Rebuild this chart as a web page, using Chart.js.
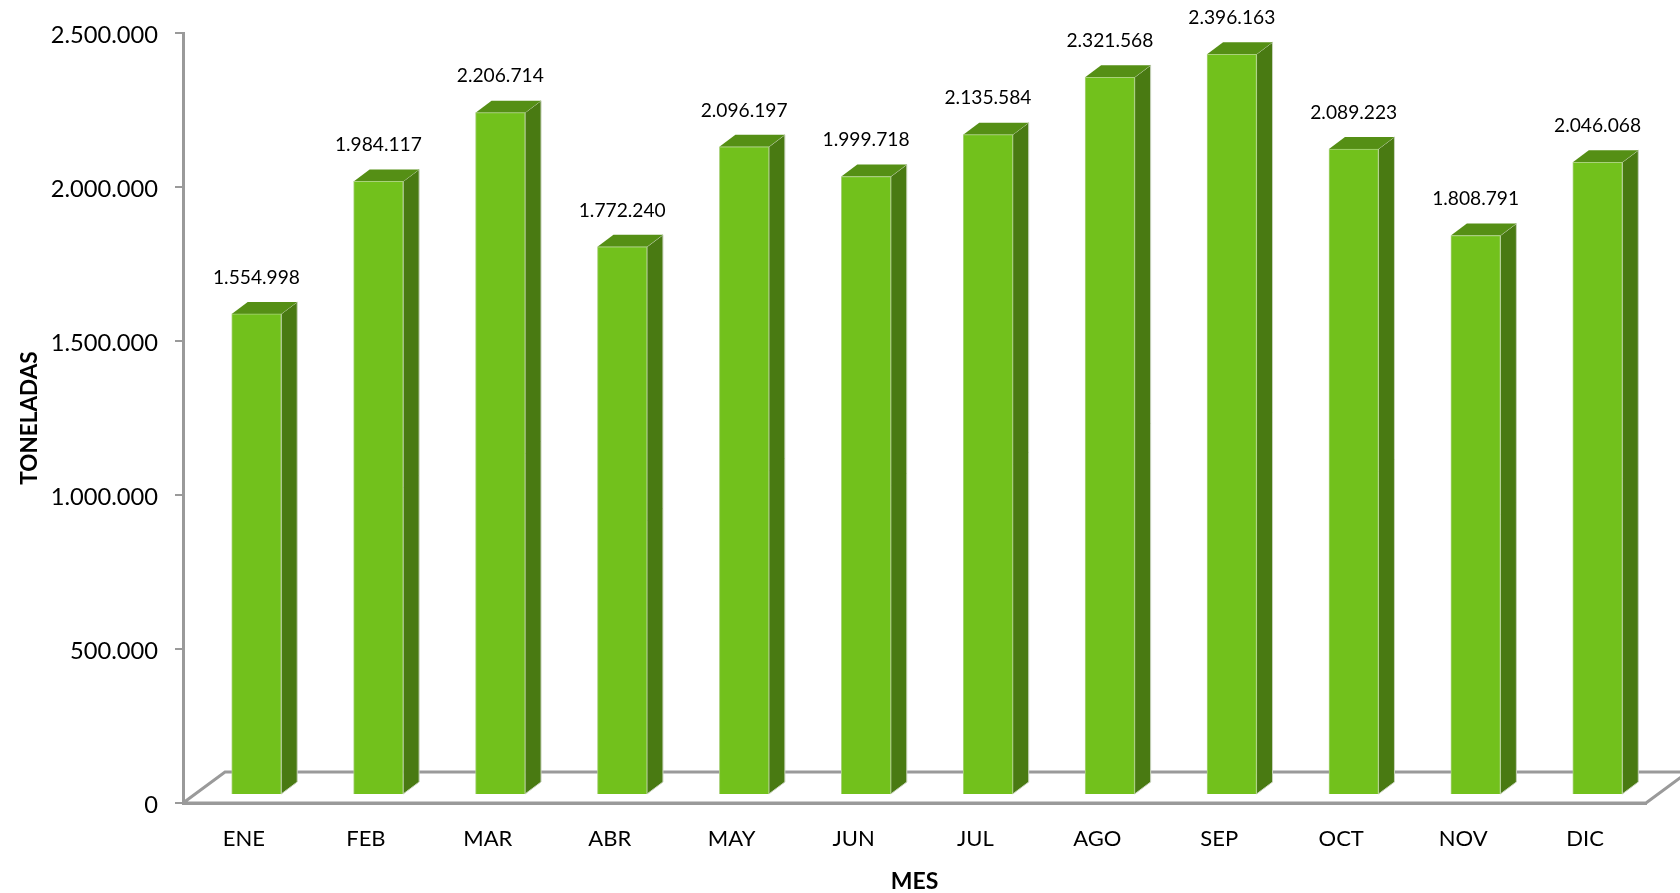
<!DOCTYPE html>
<html>
<head>
<meta charset="utf-8">
<title>Toneladas por mes</title>
<script src="https://cdn.jsdelivr.net/npm/chart.js@4/dist/chart.umd.min.js"></script>
<style>
  html, body { margin: 0; padding: 0; background: #fff; }
  canvas { display: block; }
</style>
</head>
<body>
<canvas id="chart" width="1680" height="893"></canvas>
<script>
const meses = ['ENE', 'FEB', 'MAR', 'ABR', 'MAY', 'JUN', 'JUL', 'AGO', 'SEP', 'OCT', 'NOV', 'DIC'];
const toneladas = [1554998, 1984117, 2206714, 1772240, 2096197, 1999718, 2135584, 2321568, 2396163, 2089223, 1808791, 2046068];

const FONT = 'Lato, Carlito, sans-serif';
const GRIS = '#9a9a9a';
const FRENTE = '#72c11c', LADO = '#497a12', TAPA = '#558f15';
const DX = 16, DY = 12;          // profundidad de la barra
const OFF_X = 12.5, OFF_Y = -9;  // las barras van un poco dentro del piso

const fmt = v => v.toLocaleString('de-DE');

// piso en falsa perspectiva
const piso = {
  id: 'piso',
  beforeDatasetsDraw(chart) {
    const { ctx, chartArea: a } = chart;
    ctx.save();
    ctx.strokeStyle = GRIS;
    ctx.lineWidth = 3;
    ctx.beginPath();
    ctx.moveTo(a.left, a.bottom);
    ctx.lineTo(a.left + 42, a.bottom - 31);
    ctx.lineTo(chart.width + 10, a.bottom - 31);
    ctx.moveTo(a.left, a.bottom);
    ctx.lineTo(a.right, a.bottom);
    ctx.lineTo(a.right + 42, a.bottom - 31);
    ctx.stroke();
    ctx.restore();
  }
};

// caras lateral y superior, y desplaza todo el dibujo de las barras
const barras3d = {
  id: 'barras3d',
  beforeDatasetsDraw(chart) {
    const { ctx } = chart;
    ctx.save();
    ctx.translate(OFF_X, OFF_Y);
    chart.getDatasetMeta(0).data.forEach(bar => {
      const { x, y, base, width } = bar.getProps(['x', 'y', 'base', 'width'], true);
      const l = x - width / 2, r = x + width / 2;
      ctx.fillStyle = LADO;
      ctx.strokeStyle = '#c9d3bd';
      ctx.lineWidth = 1;
      ctx.beginPath();
      ctx.moveTo(r, y);
      ctx.lineTo(r + DX, y - DY);
      ctx.lineTo(r + DX, base - DY);
      ctx.lineTo(r, base);
      ctx.closePath();
      ctx.fill();
      ctx.stroke();
      ctx.fillStyle = TAPA;
      ctx.beginPath();
      ctx.moveTo(l, y);
      ctx.lineTo(l + DX, y - DY);
      ctx.lineTo(r + DX, y - DY);
      ctx.lineTo(r, y);
      ctx.closePath();
      ctx.fill();
    });
  },
  afterDatasetsDraw(chart) {
    const { ctx } = chart;
    ctx.restore();
    ctx.save();
    ctx.fillStyle = '#000';
    ctx.font = '19.2px ' + FONT;
    ctx.textAlign = 'center';
    ctx.textBaseline = 'middle';
    chart.getDatasetMeta(0).data.forEach((bar, i) => {
      const { x, y } = bar.getProps(['x', 'y'], true);
      ctx.fillText(fmt(toneladas[i]), x + OFF_X, y + OFF_Y - DY - 24.5);
    });
    ctx.restore();
  }
};

new Chart(document.getElementById('chart'), {
  type: 'bar',
  data: {
    labels: meses,
    datasets: [{
      data: toneladas,
      yAxisID: 'yBarras',
      backgroundColor: FRENTE,
      borderColor: '#a9d27a',
      borderWidth: 1,
      barThickness: 49.5,
      clip: false
    }]
  },
  options: {
    responsive: false,
    animation: false,
    layout: { padding: { top: 33, right: 34, left: 0, bottom: 0 } },
    plugins: { legend: { display: false }, title: { display: false }, tooltip: { enabled: false } },
    scales: {
      x: {
        afterFit: s => { s.height = 90; },
        grid: { display: false },
        border: { color: GRIS, width: 3 },
        ticks: { color: '#000', font: { family: FONT, size: 22 }, padding: 15, maxRotation: 0 },
        title: { display: true, text: 'MES', color: '#000', font: { family: FONT, size: 23, weight: 'bold', lineHeight: 1 }, padding: 0 }
      },
      y: {
        min: 0,
        max: 2500000,
        afterFit: s => { s.width = 183; },
        grid: { drawOnChartArea: false, color: GRIS, lineWidth: 2, tickLength: 8 },
        border: { color: GRIS, width: 3 },
        ticks: { stepSize: 500000, color: '#000', font: { family: FONT, size: 23.7 }, padding: 17, labelOffset: 2, callback: v => fmt(v) },
        title: { display: true, text: 'TONELADAS', color: '#000', font: { family: FONT, size: 22.5, weight: 'bold', lineHeight: 1 }, padding: { top: 18, bottom: 0 } }
      },
      // las barras quedan apenas mas altas que el eje
      yBarras: { display: false, min: 0, max: 2494000 }
    }
  },
  plugins: [piso, barras3d]
});
</script>
</body>
</html>
